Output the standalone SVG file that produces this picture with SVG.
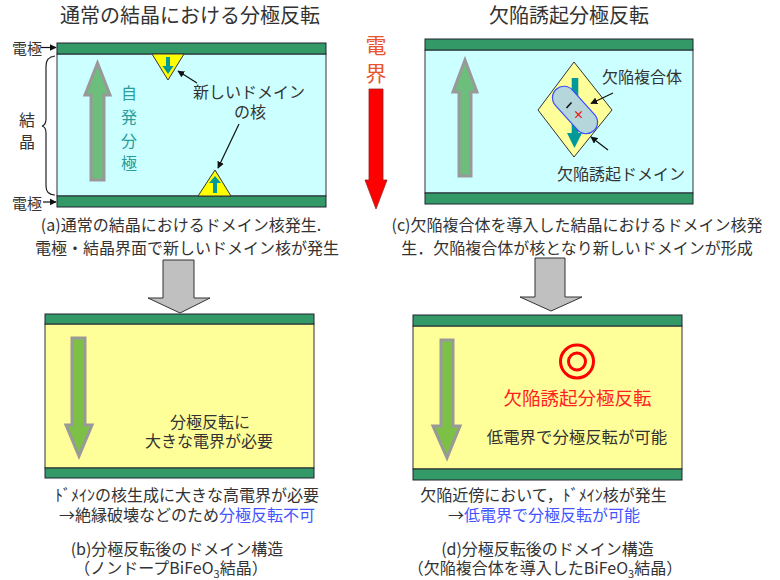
<svg xmlns="http://www.w3.org/2000/svg" width="780" height="580" viewBox="0 0 780 580">
  <style>
    text { font-family: "Noto Sans CJK JP", "Noto Sans", sans-serif; fill: #333; }
    .t16 { font-size: 16px; }
    .mid { text-anchor: middle; }
    .electrode { fill: #339966; stroke: #223; stroke-width: 1; }
    .crystal { fill: #ccffff; stroke: #333; stroke-width: 1; }
    .yellow { fill: #ffff99; stroke: #333; stroke-width: 1; }
    .polA { fill: #6dbd7c; stroke: #999; stroke-width: 3; }
    .polB { fill: #7dc046; stroke: #999; stroke-width: 3; }
    .teal { fill: #009999; }
    .nucleus { fill: #ffff00; stroke: #333; stroke-width: 1; }
    .step { fill: #c0c0c0; stroke: #333; stroke-width: 1; }
    .ptr { stroke: #111; stroke-width: 1.2; fill: none; marker-end: url(#ah); }
    .blue { fill: #4455ff; }
    .spont { fill: #2a9d9d; font-size: 16px; }
  </style>
  <defs>
    <marker id="ah" viewBox="0 0 10 10" refX="9" refY="5" markerWidth="7" markerHeight="7" orient="auto" markerUnits="userSpaceOnUse">
      <path d="M0,0 L10,5 L0,10 Z" fill="#111"/>
    </marker>
  </defs>

  <rect x="0" y="0" width="780" height="580" fill="#ffffff"/>

  <!-- headings -->
  <g id="headings">
    <text x="190" y="23" class="mid" font-size="20">通常の結晶における分極反転</text>
    <text x="569" y="23" class="mid" font-size="20">欠陥誘起分極反転</text>
  </g>

  <!-- applied field -->
  <g id="field">
    <text x="376" y="53" class="mid" font-size="21" style="fill:#e8552e">電</text>
    <text x="376" y="81" class="mid" font-size="21" style="fill:#e8552e">界</text>
    <path d="M369,89 L383,89 L383,180 L387,180 L376,209 L365,180 L369,180 Z" fill="#ff0000" stroke="#992222" stroke-width="0.8"/>
  </g>

  <!-- (a) ordinary crystal -->
  <g id="panel-a">
    <rect x="57" y="54" width="269" height="142" class="crystal"/>
    <rect x="57" y="43" width="269" height="11" class="electrode"/>
    <rect x="57" y="196" width="269" height="11" class="electrode"/>
    <path d="M97.5,63 L110,95 L104,95 L104,180 L91,180 L91,95 L85,95 Z" class="polA"/>
    <text x="129" y="99" class="mid spont">自</text>
    <text x="129" y="123" class="mid spont">発</text>
    <text x="129" y="147" class="mid spont">分</text>
    <text x="129" y="169" class="mid spont">極</text>
    <!-- nucleus at the top electrode -->
    <path d="M152,54 L184,54 L168,80 Z" class="nucleus"/>
    <path d="M166,57 L170,57 L170,66 L173.5,66 L168,74 L162.5,66 L166,66 Z" class="teal"/>
    <!-- nucleus at the bottom electrode -->
    <path d="M198,196 L231,196 L215,170 Z" class="nucleus"/>
    <path d="M213,193 L217,193 L217,183 L221,183 L215,176 L209,183 L213,183 Z" class="teal"/>
    <text x="249" y="98" class="mid t16">新しいドメイン</text>
    <text x="250" y="118" class="mid t16">の核</text>
  </g>

  <!-- (a) side labels -->
  <g id="labels-a">
    <text x="27" y="53.5" class="mid" font-size="15">電極</text>
    <text x="27" y="208.5" class="mid" font-size="15">電極</text>
    <text x="27" y="126" class="mid" font-size="16">結</text>
    <text x="27" y="147.5" class="mid" font-size="16">晶</text>
    <path d="M55,56 Q46,57 46,66 L46,119 Q46,125 42,126 Q46,127 46,133 L46,186 Q46,195 55,195" fill="none" stroke="#222" stroke-width="1.2"/>
  </g>

  <!-- (c) crystal with defect complex -->
  <g id="panel-c">
    <rect x="425" y="50" width="268" height="143" class="crystal"/>
    <rect x="425" y="39" width="268" height="11" class="electrode"/>
    <rect x="425" y="193" width="268" height="11" class="electrode"/>
    <path d="M465,60 L477,92 L471,92 L471,176 L459,176 L459,92 L453,92 Z" class="polA"/>
    <path d="M574,62 L612,110 L574,157 L538,110 Z" fill="#ffff99" stroke="#333" stroke-width="1"/>
    <path d="M571.7,78 L578.3,78 L578.3,133 L582,133 L574.5,148 L567,133 L571.7,133 Z" class="teal"/>
    <rect x="547" y="98.5" width="56" height="23" rx="11.5" transform="rotate(48 575 110)" fill="#b5d6da" stroke="#3a4cff" stroke-width="1.2"/>
    <line x1="566.5" y1="108" x2="571.5" y2="102.5" stroke="#111" stroke-width="1.6"/>
    <text x="578.5" y="119" class="mid" font-size="11" style="fill:#ee1111;font-weight:bold">×</text>
    <text x="642" y="82.5" class="mid t16">欠陥複合体</text>
    <text x="621" y="179.5" class="mid t16">欠陥誘起ドメイン</text>
  </g>

  <!-- (b) undoped crystal after switching -->
  <g id="panel-b">
    <rect x="45" y="324" width="269" height="144" class="yellow"/>
    <rect x="45" y="314" width="269" height="10" class="electrode"/>
    <rect x="45" y="468" width="269" height="10" class="electrode"/>
    <path d="M72,338 L85,338 L85,425 L92,425 L79,456 L66,425 L72,425 Z" class="polB"/>
    <text x="210" y="427.5" class="mid t16">分極反転に</text>
    <text x="209" y="446.5" class="mid t16">大きな電界が必要</text>
  </g>

  <!-- (d) defect-doped crystal after switching -->
  <g id="panel-d">
    <rect x="413" y="326" width="269" height="143" class="yellow"/>
    <rect x="413" y="315" width="269" height="11" class="electrode"/>
    <rect x="413" y="469" width="269" height="11" class="electrode"/>
    <path d="M441,340 L453,340 L453,426 L460,426 L447,458 L433,426 L441,426 Z" class="polB"/>
    <circle cx="577" cy="361.5" r="16.5" fill="none" stroke="#ff0000" stroke-width="3"/>
    <circle cx="577" cy="361.5" r="8.5" fill="none" stroke="#ff0000" stroke-width="3"/>
    <text x="577.5" y="404.5" class="mid" font-size="18.5" style="fill:#ff2222">欠陥誘起分極反転</text>
    <text x="577" y="443" class="mid" font-size="16.4">低電界で分極反転が可能</text>
  </g>

  <!-- step arrows and pointers -->
  <g id="connectors">
    <path d="M163,260 L194,260 L194,298 L210,298 L180,313 L148,298 L163,298 Z" class="step"/>
    <path d="M535,258 L565,258 L565,297 L582,297 L551,311 L520,297 L535,297 Z" class="step"/>
    <line x1="197" y1="83" x2="178" y2="71" class="ptr"/>
    <line x1="239" y1="124" x2="218" y2="168" class="ptr"/>
    <line x1="613" y1="93" x2="591" y2="103.5" class="ptr"/>
    <line x1="608" y1="150" x2="591" y2="137" class="ptr"/>
    <line x1="41" y1="47.5" x2="56" y2="47.5" class="ptr"/>
    <line x1="43" y1="202" x2="56" y2="202" class="ptr"/>
  </g>

  <!-- captions -->
  <g id="captions">
    <text x="181" y="231" class="mid t16">(a)通常の結晶におけるドメイン核発生.</text>
    <text x="187" y="254" class="mid t16">電極・結晶界面で新しいドメイン核が発生</text>
    <text x="577" y="231" class="mid t16">(c)欠陥複合体を導入した結晶におけるドメイン核発</text>
    <text x="577" y="254" class="mid t16">生．欠陥複合体が核となり新しいドメインが形成</text>

    <text x="187" y="501" class="mid t16">ﾄﾞﾒｲﾝの核生成に大きな高電界が必要</text>
    <text x="187" y="521" class="mid t16">→絶縁破壊などのため<tspan class="blue">分極反転不可</tspan></text>
    <text x="177" y="555" class="mid t16">(b)分極反転後のドメイン構造</text>
    <text x="171" y="573.5" class="mid t16">（ノンドープBiFeO<tspan font-size="11" dy="4">3</tspan><tspan dy="-4">結晶）</tspan></text>

    <text x="543.5" y="501" class="mid t16">欠陥近傍において，ﾄﾞﾒｲﾝ核が発生</text>
    <text x="544" y="521" class="mid t16">→<tspan class="blue">低電界で分極反転が可能</tspan></text>
    <text x="547.5" y="555" class="mid t16">(d)分極反転後のドメイン構造</text>
    <text x="545" y="573.5" class="mid t16">（欠陥複合体を導入したBiFeO<tspan font-size="11" dy="4">3</tspan><tspan dy="-4">結晶）</tspan></text>
  </g>
</svg>
